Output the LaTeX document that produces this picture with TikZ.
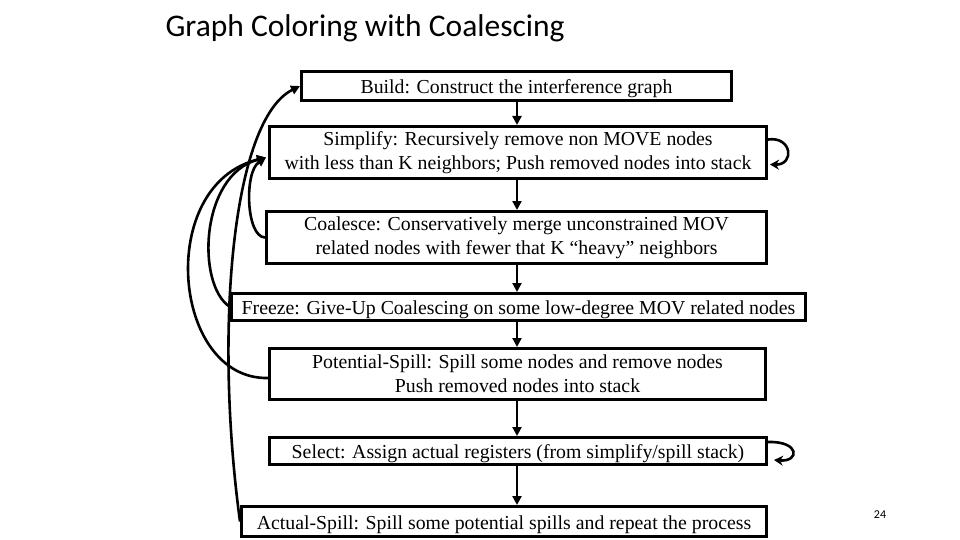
\documentclass[tikz,border=0pt]{standalone}
\usepackage{fontspec}
\setmainfont{Liberation Serif}
\newfontfamily\titlefont{Carlito}
\usetikzlibrary{arrows.meta,calc}
\begin{document}
\begin{tikzpicture}[x=1pt,y=-1pt,
  stagebox/.style={draw,line width=3pt,inner sep=0pt,align=center,
    font=\fontsize{19.8}{24}\selectfont,
    execute at begin node={\rule{0pt}{19.5pt}}},
  arr/.style={line width=2.6pt,-{Triangle[length=9pt,width=9pt]}},
  loopArr/.style={line width=2.6pt,-{Stealth[length=9pt,width=10pt]}}]
\useasboundingbox (0,0) rectangle (960,540);
\node[anchor=west,font=\titlefont\fontsize{31.5}{34}\selectfont] (title) at (162,28) {Graph Coloring with Coalescing};
\node[font=\titlefont\fontsize{12}{14}\selectfont] (pnum) at (880,515) {24};

\node[stagebox,minimum width=430pt,minimum height=29pt] (build) at (516.5,86) {Build: Construct the interference graph};
\node[stagebox,minimum width=497pt,minimum height=52pt] (simplify) at (518,152.5) {Simplify: Recursively remove non MOVE nodes\\with less than K neighbors; Push removed nodes into stack};
\node[stagebox,minimum width=500pt,minimum height=52pt] (coalesce) at (516.5,237.5) {Coalesce: Conservatively merge unconstrained MOV\\related nodes with fewer that K ``heavy'' neighbors};
\node[stagebox,minimum width=574pt,minimum height=27pt] (freeze) at (518.5,307) {Freeze: Give-Up Coalescing on some low-degree MOV related nodes};
\node[stagebox,minimum width=496pt,minimum height=51pt] (pspill) at (517.5,374) {Potential-Spill: Spill some nodes and remove nodes\\Push removed nodes into stack};
\node[stagebox,minimum width=497pt,minimum height=27pt] (select) at (518,451) {Select: Assign actual registers (from simplify/spill stack)};
\node[stagebox,minimum width=525pt,minimum height=30pt] (aspill) at (504,521.5) {Actual-Spill: Spill some potential spills and repeat the process};

% downward arrows
\draw[arr] (build.south -| 517,0) -- (simplify.north -| 517,0);
\draw[arr] (simplify.south -| 517,0) -- (coalesce.north -| 517,0);
\draw[arr] (coalesce.south -| 517,0) -- (freeze.north -| 517,0);
\draw[arr] (freeze.south -| 517,0) -- (pspill.north -| 517,0);
\draw[arr] (pspill.south -| 517,0) -- (select.north -| 517,0);
\draw[arr] (select.south -| 517,0) -- (aspill.north -| 517,0);

% feedback arrows on the left
\coordinate (sin) at ($(simplify.west)+(-2,5)$);
\draw[arr] (aspill.west) .. controls (214,330) and (232,120) .. (build.west);
\draw[arr] (coalesce.west) .. controls (246,237) and (244,172) .. (sin);
\draw[arr] (freeze.west) .. controls (196,285) and (200,175) .. (sin);
\draw[arr] ($(pspill.west)+(0,4)$) .. controls (172,380) and (155,185) .. (sin);

% self loops
\draw[loopArr] ($(simplify.east)+(0,-13)$) .. controls (792,136) and (795,165) .. ($(simplify.east)+(2,12)$);
\draw[loopArr] ($(select.east)+(0,-9)$) .. controls (800,441) and (800,462) .. ($(select.east)+(6,9)$);
\end{tikzpicture}
\end{document}
